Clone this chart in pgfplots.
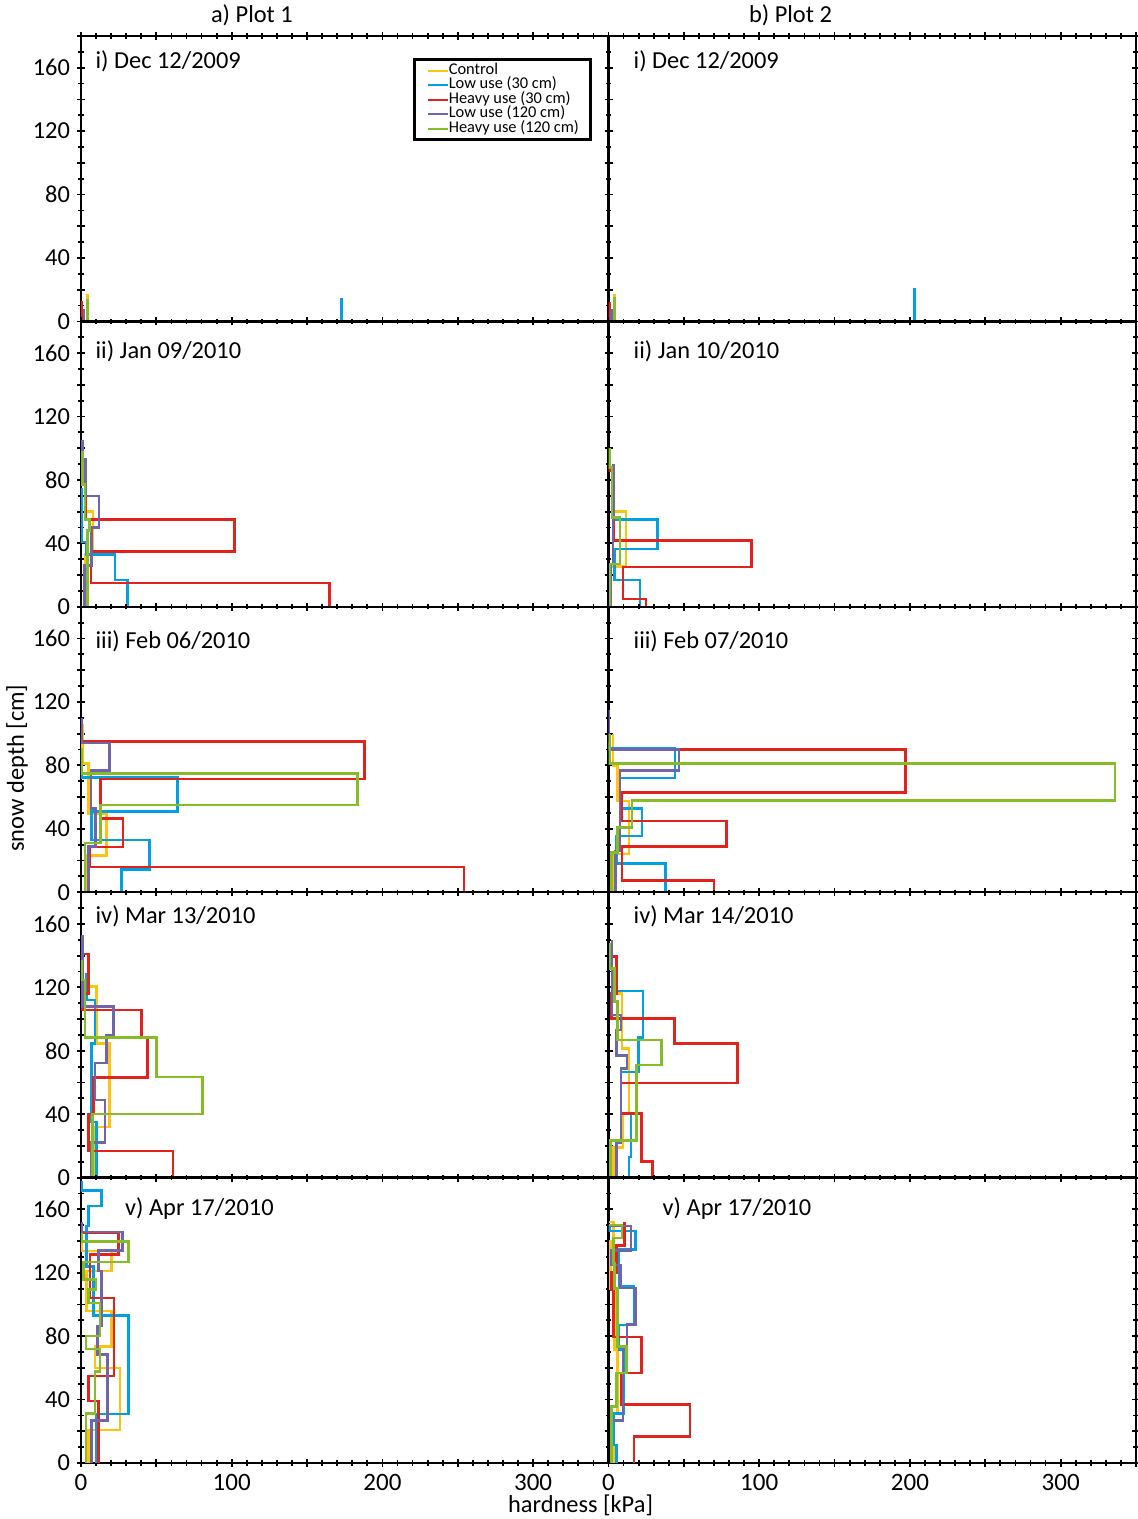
\documentclass[border=0pt]{standalone}
\usepackage{pgfplots}
\pgfplotsset{compat=1.18}
\usepgfplotslibrary{groupplots}
\usepackage{fontspec}
\setmainfont{Carlito}
\definecolor{cY}{RGB}{255,194,14}
\definecolor{cB}{RGB}{0,160,226}
\definecolor{cR}{RGB}{226,35,28}
\definecolor{cP}{RGB}{112,100,170}
\definecolor{cG}{RGB}{134,188,37}
\pgfplotsset{
  ctl/.style={cY, line width=1.3pt},
  l30/.style={cB, line width=1.3pt},
  h30/.style={cR, line width=1.3pt},
  l120/.style={cP, line width=1.3pt},
  h120/.style={cG, line width=1.3pt},
  leftcol/.style={yticklabels={0,,40,,80,,120,,160,}},
  rightcol/.style={yticklabels={}},
  bottomrow/.style={xticklabels={0,,100,,200,,300,}},
}
\newcommand{\plab}[3]{\node[anchor=west, inner sep=0pt, font=\fontsize{12.2}{14}\selectfont] at (rel axis cs:#1,#2) {#3};}
\begin{document}
\begin{tikzpicture}
\begin{groupplot}[
  group style={group size=2 by 5, horizontal sep=0pt, vertical sep=0pt, group name=G},
  width=263.75pt, height=142.7pt, scale only axis,
  xmin=0, xmax=350, ymin=0, ymax=180,
  axis line style={line width=1.2pt},
  tick align=center,
  xtick={0,50,...,350}, minor x tick num=4,
  ytick={0,20,...,180}, minor y tick num=1,
  major tick length=4pt, minor tick length=2.6pt,
  tick style={black, line width=0.9pt},
  xticklabel style={font=\fontsize{12.5}{14}\selectfont},
  yticklabel style={font=\fontsize{12.2}{14}\selectfont},
  xticklabels={}, yticklabels={},
  legend image code/.code={\draw[#1, line width=1pt] (0pt,0pt) -- (10pt,0pt);},
]
% ---------- row 1
\nextgroupplot[leftcol,
  legend style={at={(rel axis cs:0.63,0.923)}, anchor=north west, draw=black, line width=1.5pt,
    font=\fontsize{8.2}{8}\selectfont, nodes={inner sep=0pt, text height=5.5pt, text depth=1.75pt},
    inner xsep=6pt, inner ysep=2pt, cells={anchor=west}, column sep=0pt}]
\addplot[ctl] coordinates {(4.5,0)(4.5,17)}; \addlegendentry{Control}
\addplot[l30] coordinates {(173,0)(173,14.5)}; \addlegendentry{Low use (30 cm)}
\addplot[h30] coordinates {(0.5,0)(0.5,13)}; \addlegendentry{Heavy use (30 cm)}
\addplot[l120] coordinates {(2,0)(2,8)}; \addlegendentry{Low use (120 cm)}
\addplot[h120] coordinates {(4.5,0)(4.5,14)}; \addlegendentry{Heavy use (120 cm)}
\plab{0.027}{0.912}{i) Dec 12/2009}
\coordinate (TA) at (rel axis cs:0.324,1);
\coordinate (TL) at (rel axis cs:0,1);
\nextgroupplot[rightcol]
\addplot[ctl] coordinates {(4,0)(4,17)};
\addplot[l30] coordinates {(203,0)(203,21)};
\addplot[h30] coordinates {(0.5,0)(0.5,12)};
\addplot[l120] coordinates {(2,0)(2,8)};
\addplot[h120] coordinates {(4,0)(4,15.5)};
\plab{0.047}{0.912}{i) Dec 12/2009}
\coordinate (TB) at (rel axis cs:0.345,1);
% ---------- row 2
\nextgroupplot[leftcol]
\addplot[ctl] coordinates {(2.6,0)(2.6,33)(8,33)(8,60)(3,60)(3,80)};
\addplot[l30] coordinates {(31,0)(31,17)(22.6,17)(22.6,33)(3.3,33)(3.3,41)(0.5,41)(0.5,75)};
\addplot[h30] coordinates {(165,0)(165,15)(6.6,15)(6.6,35)(102,35)(102,55)(3,55)(3,85)};
\addplot[l120] coordinates {(2.5,0)(2.5,26)(7,26)(7,50)(12,50)(12,70)(3,70)(3,93)(1,93)(1,105)};
\addplot[h120] coordinates {(4.2,0)(4.2,48)(5.5,48)(5.5,55)(2.7,55)(2.7,77)(1,77)(1,98)};
\plab{0.027}{0.895}{ii) Jan 09/2010}
\nextgroupplot[rightcol]
\addplot[ctl] coordinates {(1.5,0)(1.5,25.5)(11.7,25.5)(11.7,60)(2.4,60)(2.4,80)};
\addplot[l30] coordinates {(20.8,0)(20.8,17)(4,17)(4,36.5)(32.7,36.5)(32.7,55)(3.5,55)(3.5,90)};
\addplot[h30] coordinates {(25,0)(25,5)(9.7,5)(9.7,25)(95,25)(95,42)(3.5,42)(3.5,86)(0.5,86)(0.5,90)};
\addplot[l120] coordinates {(1.5,0)(1.5,27)(3,27)(3,56)(3.5,56)(3.5,90)};
\addplot[h120] coordinates {(1,0)(1,27)(7.5,27)(7.5,56.5)(2.4,56.5)(2.4,88)(0.5,88)(0.5,100)};
\plab{0.047}{0.895}{ii) Jan 10/2010}
% ---------- row 3
\nextgroupplot[leftcol]
\addplot[ctl] coordinates {(3,0)(3,23)(17,23)(17,49.6)(4.9,49.6)(4.9,81)(1,81)(1,106)};
\addplot[l30] coordinates {(27,0)(27,14.3)(45.4,14.3)(45.4,33)(7,33)(7,51)(64,51)(64,72.4)(0.5,72.4)(0.5,77)};
\addplot[h30] coordinates {(254,0)(254,16)(5.5,16)(5.5,28.5)(28,28.5)(28,46.4)(13,46.4)(13,71.3)(188,71.3)(188,95)(0.5,95)(0.5,98)};
\addplot[l120] coordinates {(4.9,0)(4.9,28.7)(9.7,28.7)(9.7,52.7)(6.6,52.7)(6.6,76.6)(19,76.6)(19,94)(0.4,94)(0.4,110)};
\addplot[h120] coordinates {(2.7,0)(2.7,31)(13,31)(13,55)(183.6,55)(183.6,75)(0.5,75)(0.5,91)};
\plab{0.027}{0.88}{iii) Feb 06/2010}
\coordinate (YL) at (rel axis cs:0,0.435);
\nextgroupplot[rightcol]
\addplot[ctl] coordinates {(3,0)(3,24)(13.6,24)(13.6,57.6)(6,57.6)(6,80)(3,80)(3,100)};
\addplot[l30] coordinates {(38,0)(38,18)(5.2,18)(5.2,35.4)(22.3,35.4)(22.3,52.7)(7.5,52.7)(7.5,72)(44,72)(44,91)(0.7,91)(0.7,95)};
\addplot[h30] coordinates {(70,0)(70,7.4)(9,7.4)(9,29)(78.4,29)(78.4,45)(9,45)(9,63)(197,63)(197,90)(0.7,90)(0.7,95)};
\addplot[l120] coordinates {(4.5,0)(4.5,26)(7.5,26)(7.5,76.6)(46.8,76.6)(46.8,90)(0.3,90)(0.3,115)};
\addplot[h120] coordinates {(1.8,0)(1.8,25)(6,25)(6,41)(15.5,41)(15.5,58)(336,58)(336,81)(0.7,81)(0.7,100)};
\plab{0.047}{0.88}{iii) Feb 07/2010}
% ---------- row 4
\nextgroupplot[leftcol]
\addplot[ctl] coordinates {(9,0)(9,32)(18.8,32)(18.8,84.6)(10.4,84.6)(10.4,120.5)(1,120.5)(1,129)};
\addplot[l30] coordinates {(10.4,0)(10.4,35)(7,35)(7,84.6)(9.3,84.6)(9.3,112)(3.8,112)(3.8,129)};
\addplot[h30] coordinates {(61,0)(61,16.7)(4.9,16.7)(4.9,40)(8.2,40)(8.2,63)(44,63)(44,88.4)(40,88.4)(40,105.7)(1,105.7)(1,116)(4.9,116)(4.9,141)(0.3,141)};
\addplot[l120] coordinates {(7,0)(7,22)(16,22)(16,49)(9.3,49)(9.3,72.4)(17,72.4)(17,90)(21.5,90)(21.5,108)(1,108)(1,153)};
\addplot[h120] coordinates {(7.7,0)(7.7,40)(80.8,40)(80.8,63.5)(50,63.5)(50,88.4)(2.7,88.4)(2.7,124.7)(0.4,124.7)(0.4,137)};
\plab{0.027}{0.916}{iv) Mar 13/2010}
\nextgroupplot[rightcol]
\addplot[ctl] coordinates {(3.5,0)(3.5,19)(9.7,19)(9.7,40.3)(13.5,40.3)(13.5,81.4)(9,81.4)(9,116)(3.5,116)(3.5,131)};
\addplot[l30] coordinates {(13.5,0)(13.5,12.9)(15,12.9)(15,40.3)(8.4,40.3)(8.4,66.7)(20,66.7)(20,88.4)(23,88.4)(23,117.7)(3,117.7)(3,131)};
\addplot[h30] coordinates {(29,0)(29,10.3)(21.9,10.3)(21.9,40.3)(8.4,40.3)(8.4,59.7)(85.4,59.7)(85.4,84.6)(43.8,84.6)(43.8,100.4)(1.8,100.4)(1.8,116)(5.3,116)(5.3,139.5)(0.5,139.5)};
\addplot[l120] coordinates {(5.3,0)(5.3,22)(8.4,22)(8.4,68.8)(12.4,68.8)(12.4,77)(5.3,77)(5.3,93)(8.4,93)(8.4,102.5)(2.4,102.5)(2.4,150)};
\addplot[h120] coordinates {(1.3,0)(1.3,23.4)(18.6,23.4)(18.6,70.9)(35,70.9)(35,86.7)(5.8,86.7)(5.8,111)(4,111)(4,132)(1,132)(1,148)};
\plab{0.047}{0.916}{iv) Mar 14/2010}
% ---------- row 5
\nextgroupplot[leftcol, bottomrow]
\addplot[ctl] coordinates {(4.9,0)(4.9,20.9)(25.9,20.9)(25.9,59.9)(9.3,59.9)(9.3,73.6)(20.4,73.6)(20.4,95.8)(3.8,95.8)(3.8,121)(20.4,121)(20.4,133.8)(0.4,133.8)(0.4,139)};
\addplot[l30] coordinates {(10.4,0)(10.4,30.8)(31.4,30.8)(31.4,93)(8.2,93)(8.2,124)(3.8,124)(3.8,149.6)(5,149.6)(5,162)(13.7,162)(13.7,171.7)(0.4,171.7)(0.4,178)};
\addplot[h30] coordinates {(11.5,0)(11.5,39)(4.9,39)(4.9,55)(22,55)(22,104)(6,104)(6,131.6)(24.8,131.6)(24.8,145)(0.4,145)};
\addplot[l120] coordinates {(7,0)(7,27)(17.5,27)(17.5,68.4)(10.8,68.4)(10.8,86.3)(13.7,86.3)(13.7,121)(11.5,121)(11.5,134)(27.7,134)(27.7,145.8)(0.4,145.8)(0.4,151.7)};
\addplot[h120] coordinates {(3.3,0)(3.3,31.4)(9.3,31.4)(9.3,57.8)(12.6,57.8)(12.6,72)(3.3,72)(3.3,80)(12.6,80)(12.6,101)(4.9,101)(4.9,109.5)(10,109.5)(10,115.8)(1.5,115.8)(1.5,126.8)(31.4,126.8)(31.4,139.7)(0.4,139.7)(0.4,145)};
\plab{0.083}{0.891}{v) Apr 17/2010}
\coordinate (XL) at (rel axis cs:0.947,0);
\nextgroupplot[rightcol, bottomrow]
\addplot[ctl] coordinates {(3.5,0)(3.5,31)(5.8,31)(5.8,71.5)(4,71.5)(4,110)(1.5,110)(1.5,140)(3.5,140)(3.5,152)(0.3,152)};
\addplot[l30] coordinates {(5.3,0)(5.3,11.4)(3.5,11.4)(3.5,31.4)(10.2,31.4)(10.2,71.5)(7,71.5)(7,87)(16.8,87)(16.8,111.6)(7,111.6)(7,134.8)(18,134.8)(18,146.4)(0.5,146.4)(0.5,150)};
\addplot[h30] coordinates {(16.8,0)(16.8,16.7)(54,16.7)(54,37)(8.4,37)(8.4,56.8)(21.9,56.8)(21.9,79.5)(3.5,79.5)(3.5,109.5)(1.8,109.5)(1.8,120)(5.3,120)(5.3,137)(10.6,137)(10.6,151.7)};
\addplot[l120] coordinates {(2.4,0)(2.4,27)(9.7,27)(9.7,71.5)(12.4,71.5)(12.4,87.3)(18,87.3)(18,110.5)(8,110.5)(8,125)(1.8,125)(1.8,134)(15,134)(15,149.6)(0.5,149.6)};
\addplot[h120] coordinates {(1.8,0)(1.8,35.6)(5.3,35.6)(5.3,56.8)(12,56.8)(12,73.6)(6,73.6)(6,110)(4,110)(4,126)(3.5,126)(3.5,142)(9,142)(9,150)(0.5,150)};
\plab{0.102}{0.891}{v) Apr 17/2010}
\coordinate (BR) at (rel axis cs:1,0);
\end{groupplot}
\node[font=\fontsize{12.2}{14}\selectfont] at ([yshift=10.5pt]TA) {a) Plot 1};
\node[font=\fontsize{12.2}{14}\selectfont] at ([yshift=10.5pt]TB) {b) Plot 2};
\node[rotate=90, font=\fontsize{12.2}{14}\selectfont] at ([xshift=-32pt]YL) {snow depth [cm]};
\node[font=\fontsize{12.2}{14}\selectfont] at ([yshift=-21pt]XL) {hardness [kPa]};
\pgfresetboundingbox
\path ([shift={(-40.5pt,18pt)}]TL) rectangle ([shift={(1pt,-28pt)}]BR);
\end{tikzpicture}
\end{document}
